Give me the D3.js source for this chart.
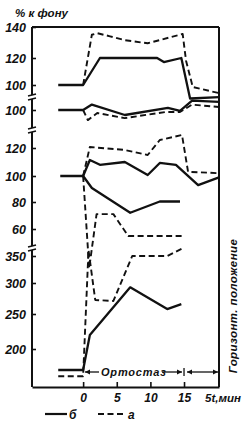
<!DOCTYPE html>
<html>
<head>
<meta charset="utf-8">
<script src="https://cdn.jsdelivr.net/npm/d3@7"></script>
<style>body{margin:0;background:#fff}</style>
</head>
<body>
<script>
// minutes on the time axis
var minTicks = [0, 5, 10, 15];

// panel 1 (% к фону, 100..140)
var p1Ticks = [100, 120, 140];
var p1SolidT = [-3.7, 0, 2.5, 6.2, 11.0, 12.0, 14.6, 15.9, 20.2];
var p1SolidV = [100, 100, 120, 120, 120, 117, 120, 90, 91];
var p1DashT = [0, 1.3, 2.1, 4.0, 6.2, 9.6, 14.8, 15.3, 16.3, 20.2];
var p1DashV = [100, 135, 136, 134, 131.5, 129.5, 135.5, 118, 98.5, 94];

// panel 2 (100)
var p2Ticks = [100];
var p2SolidT = [-3.7, 0, 1.3, 6.2, 12.6, 14.4, 16.2, 20.2];
var p2SolidV = [100, 100, 104, 96.3, 101.5, 99.3, 107, 106];
var p2DashT = [0, 0.7, 2.1, 6.2, 12.2, 14.4, 16.2, 20.2];
var p2DashV = [100, 92.5, 97.8, 94, 98.5, 98.5, 104, 102.2];

// panel 3 (60..120)
var p3Ticks = [60, 80, 100, 120];
var p3SolidAT = [-3.4, 0, 1.0, 2.5, 6.2, 9.6, 11.4, 13.8, 17.1, 20.2];
var p3SolidAV = [100, 100, 111.4, 108, 110, 100.7, 109.3, 108, 93, 99];
var p3DashAT = [0, 1.0, 6.2, 9.6, 11.4, 14.7, 15.6, 20.2];
var p3DashAV = [100, 120.7, 118.6, 115, 125.7, 129.3, 103, 102];
var p3SolidBT = [0, 1.3, 7.0, 11.4, 14.4];
var p3SolidBV = [100, 90.8, 72, 80.4, 80.4];
var p3DashBT = [0, 0.9, 2.0, 4.5, 6.7, 14.9];
var p3DashBV = [100, 31, 71, 71, 54.8, 54.8];

// panel 4 (200..350)
var p4Ticks = [200, 250, 300, 350];
var p4SolidT = [-3.7, 0, 1.0, 7.0, 12.5, 14.6];
var p4SolidV = [170, 170, 220, 293, 258, 266];
var p4DashT = [-3.7, 0, 0.8, 1.8, 4.5, 7.3, 12.5, 14.9];
var p4DashV = [161, 161, 361, 272.6, 271, 350, 350, 365];

var W = 250, H = 422;
var ink = '#111';

var svg = d3.select('body').append('svg')
  .attr('width', W).attr('height', H)
  .style('font-family', '"Liberation Sans", Arial, sans-serif')
  .style('font-style', 'italic').style('font-weight', 'bold');

var x = d3.scaleLinear().domain([-7.6, 20.2]).range([32, 219]);
var y1 = d3.scaleLinear().domain([100, 120, 140]).range([85, 58, 27]);
var y2 = d3.scaleLinear().domain([80, 120]).range([137, 83]);
var y3 = d3.scaleLinear().domain([60, 80, 100, 120]).range([229, 202, 176, 148]);
var y4 = d3.scaleLinear().domain([200, 250, 300, 350]).range([349, 314, 283, 256]);

var series = [
  [y1, p1SolidT, p1SolidV, false], [y1, p1DashT, p1DashV, true],
  [y2, p2SolidT, p2SolidV, false], [y2, p2DashT, p2DashV, true],
  [y3, p3SolidAT, p3SolidAV, false], [y3, p3DashAT, p3DashAV, true],
  [y3, p3SolidBT, p3SolidBV, false], [y3, p3DashBT, p3DashBV, true],
  [y4, p4SolidT, p4SolidV, false], [y4, p4DashT, p4DashV, true]
];

series.forEach(function(s) {
  var ys = s[0];
  var pts = s[1].map(function(t, i) { return [t, s[2][i]]; });
  var line = d3.line().x(function(d) { return x(d[0]); }).y(function(d) { return ys(d[1]); });
  svg.append('path').attr('d', line(pts))
    .attr('fill', 'none').attr('stroke', ink)
    .attr('stroke-width', s[3] ? 1.9 : 2.3)
    .attr('stroke-dasharray', s[3] ? '6,3.5' : null)
    .attr('stroke-linejoin', 'round');
});

// frame
svg.append('line').attr('x1', 32).attr('x2', 219).attr('y1', 27).attr('y2', 27).attr('stroke', ink).attr('stroke-width', 2);
svg.append('line').attr('x1', 219).attr('x2', 219).attr('y1', 27).attr('y2', 387).attr('stroke', ink).attr('stroke-width', 2);

// left axis with breaks
var segs = [[27, 95], [99, 128], [132, 246], [250, 387]];
segs.forEach(function(g) {
  svg.append('line').attr('x1', 32).attr('x2', 32).attr('y1', g[0]).attr('y2', g[1]).attr('stroke', ink).attr('stroke-width', 2);
});
[97, 130, 248].forEach(function(b) {
  [-2, 2].forEach(function(o) {
    svg.append('line').attr('x1', 28).attr('x2', 36).attr('y1', b + o + 1).attr('y2', b + o - 1)
      .attr('stroke', ink).attr('stroke-width', 1.5);
  });
});

function yAxis(scale, vals) {
  svg.append('g').attr('transform', 'translate(32,0)')
    .call(d3.axisLeft(scale).tickValues(vals).tickSizeInner(-4).tickSizeOuter(0).tickPadding(6))
    .call(function(g) {
      g.select('.domain').remove();
      g.selectAll('line').attr('stroke', ink).attr('stroke-width', 1.6);
      g.selectAll('text').attr('fill', ink).attr('font-size', 12.5)
        .attr('font-family', null).style('font-style', 'italic').style('font-weight', 'bold');
    });
}
yAxis(y1, p1Ticks);
yAxis(y2, p2Ticks);
yAxis(y3, p3Ticks);
yAxis(y4, p4Ticks);

// time axis
svg.append('g').attr('transform', 'translate(0,387)')
  .call(d3.axisBottom(x).tickValues(minTicks).tickSizeInner(-5).tickSizeOuter(0).tickPadding(6))
  .call(function(g) {
    g.select('.domain').attr('stroke', ink).attr('stroke-width', 2);
    g.selectAll('line').attr('stroke', ink).attr('stroke-width', 1.6);
    g.selectAll('text').attr('fill', ink).attr('font-size', 12)
      .attr('font-family', null).style('font-style', 'italic').style('font-weight', 'bold');
  });
svg.append('text').attr('x', 205).attr('y', 402).attr('font-size', 11.5).attr('fill', ink).text('5t,мин');

svg.append('text').attr('x', 15).attr('y', 17).attr('font-size', 11.5).attr('fill', ink).text('% к фону');

// orthostasis annotation
var ay = 372;
function arrowHead(px, dir) {
  svg.append('path').attr('d', 'M' + px + ',' + ay + 'l' + (-5 * dir) + ',-2.5v5z').attr('fill', ink);
}
svg.append('line').attr('x1', 85).attr('x2', 99).attr('y1', ay).attr('y2', ay).attr('stroke', ink).attr('stroke-width', 1.3);
arrowHead(85, -1);
svg.append('text').attr('x', 101).attr('y', ay + 4).attr('font-size', 11).attr('letter-spacing', 0.8).attr('fill', ink).text('Ортостаз');
svg.append('line').attr('x1', 162).attr('x2', 182).attr('y1', ay).attr('y2', ay).attr('stroke', ink).attr('stroke-width', 1.3);
arrowHead(182, 1);
svg.append('line').attr('x1', x(15)).attr('x2', x(15)).attr('y1', ay - 4).attr('y2', ay + 4).attr('stroke', ink).attr('stroke-width', 1.3);
svg.append('line').attr('x1', 187).attr('x2', 218).attr('y1', ay).attr('y2', ay).attr('stroke', ink).attr('stroke-width', 1.3);
arrowHead(187, -1);
arrowHead(218, 1);

svg.append('text').attr('transform', 'translate(237,306) rotate(-90)')
  .attr('text-anchor', 'middle').attr('font-size', 11.5).attr('letter-spacing', 0.4).attr('fill', ink).text('Горизонт. положение');

// legend
svg.append('line').attr('x1', 45).attr('x2', 67).attr('y1', 414).attr('y2', 414).attr('stroke', ink).attr('stroke-width', 2.2);
svg.append('text').attr('x', 69).attr('y', 419).attr('font-size', 12).attr('fill', ink).text('б');
svg.append('line').attr('x1', 98).attr('x2', 125).attr('y1', 414).attr('y2', 414).attr('stroke', ink).attr('stroke-width', 1.9).attr('stroke-dasharray', '6,3.5');
svg.append('text').attr('x', 128).attr('y', 419).attr('font-size', 12).attr('fill', ink).text('а');
</script>
</body>
</html>
